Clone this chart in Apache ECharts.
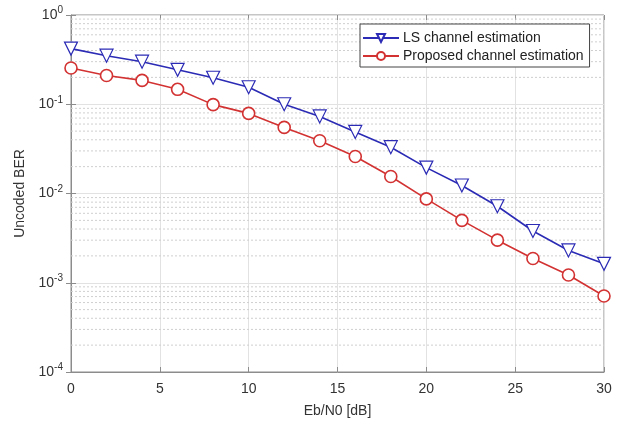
<!DOCTYPE html>
<html>
<head>
<meta charset="utf-8">
<script src="https://cdn.jsdelivr.net/npm/echarts@6/dist/echarts.min.js"></script>
<style>
  html, body { margin: 0; padding: 0; background: #fff; }
  #chart { width: 636px; height: 423px; }
</style>
</head>
<body>
<div id="chart"></div>
<script>
  // Eb/N0 points (dB)
  const ebno = [0, 2, 4, 6, 8, 10, 12, 14, 16, 18, 20, 22, 24, 26, 28, 30]
  const lsBer = [0.42, 0.35, 0.30, 0.243, 0.198, 0.155, 0.100, 0.073, 0.049, 0.033, 0.0195, 0.0123, 0.0072, 0.0038, 0.0023, 0.00163]
  const proposedBer = [0.255, 0.21, 0.185, 0.147, 0.099, 0.079, 0.055, 0.039, 0.026, 0.0155, 0.0087, 0.0050, 0.0030, 0.00187, 0.00122, 0.00071]
  const decades = [-4, -3, -2, -1]
  const minorMantissa = [2, 3, 4, 5, 6, 7, 8, 9]
  const seriesNames = ['LS channel estimation', 'Proposed channel estimation']

  // dotted minor grid at 2..9 x 10^k, drawn as one broken line series
  let minorGrid = []
  decades.forEach(k => {
    minorMantissa.forEach(m => {
      const v = m * Math.pow(10, k)
      minorGrid.push([0, v], [30, v], [30, '-'])
    })
  })

  const font = 'Liberation Sans, Arial, sans-serif'
  const blue = '#2b2bb5'
  const red = '#d33232'
  const chart = echarts.init(document.getElementById('chart'))

  const supLabel = {
    b: { fontSize: 14, color: '#333', fontFamily: font },
    s: { fontSize: 10, color: '#333', fontFamily: font, verticalAlign: 'top', padding: [0, 0, 9, 0] }
  }

  const option = {
    animation: false,
    backgroundColor: '#fff',
    color: [blue, red],
    grid: {
      left: 71, right: 32, top: 15, bottom: 51,
      show: true, borderColor: '#8c8c8c', borderWidth: 1
    },
    legend: {
      orient: 'vertical',
      left: 360,
      top: 24,
      itemWidth: 36,
      itemHeight: 10,
      itemGap: 4,
      padding: [7, 6, 4, 2],
      borderColor: '#444',
      borderWidth: 1,
      backgroundColor: '#fff',
      textStyle: { fontSize: 14, color: '#222', fontFamily: font, padding: [0, 0, 0, -1] },
      data: seriesNames
    },
    xAxis: [{
      type: 'value',
      min: 0, max: 30, interval: 5,
      name: 'Eb/N0 [dB]',
      nameLocation: 'middle',
      nameGap: 32,
      nameTextStyle: { fontSize: 14, color: '#333', fontFamily: font },
      axisLine: { lineStyle: { color: '#8c8c8c' } },
      axisTick: { inside: true, length: 5, lineStyle: { color: '#8c8c8c' } },
      axisLabel: { fontSize: 14, color: '#333', margin: 10, fontFamily: font },
      splitLine: { lineStyle: { color: '#e2e2e2' } }
    }, {
      type: 'value',
      position: 'top',
      min: 0, max: 30, interval: 5,
      axisLine: { show: false },
      axisTick: { inside: true, length: 5, lineStyle: { color: '#8c8c8c' } },
      axisLabel: { show: false },
      splitLine: { show: false }
    }],
    yAxis: [{
      type: 'log',
      logBase: 10,
      min: 1e-4, max: 1,
      name: 'Uncoded BER',
      nameLocation: 'middle',
      nameGap: 34,
      nameTextStyle: { fontSize: 14, color: '#333', fontFamily: font },
      axisLine: { show: true, lineStyle: { color: '#8c8c8c' } },
      axisTick: { inside: true, length: 5, lineStyle: { color: '#8c8c8c' } },
      axisLabel: {
        margin: 8,
        formatter: v => '{b|10}{s|' + Math.round(Math.log10(v)) + '}',
        rich: supLabel
      },
      splitLine: { lineStyle: { color: '#e2e2e2' } }
    }, {
      type: 'log',
      logBase: 10,
      min: 1e-4, max: 1,
      position: 'right',
      axisLine: { show: false },
      axisTick: { inside: true, length: 5, lineStyle: { color: '#8c8c8c' } },
      axisLabel: { show: false },
      splitLine: { show: false }
    }],
    series: [
      {
        name: 'minor-grid',
        type: 'line',
        data: minorGrid,
        silent: true,
        symbol: 'none',
        connectNulls: false,
        lineStyle: { color: '#cfcfcf', type: [2, 2], width: 1 },
        z: 1
      },
      {
        name: seriesNames[0],
        type: 'line',
        data: ebno.map((x, i) => [x, lsBer[i]]),
        symbol: 'triangle',
        symbolRotate: 180,
        symbolSize: 13,
        showAllSymbol: true,
        lineStyle: { width: 1.6, color: blue },
        itemStyle: { color: '#fff', borderColor: blue, borderWidth: 1.2 },
        z: 3
      },
      {
        name: seriesNames[1],
        type: 'line',
        data: ebno.map((x, i) => [x, proposedBer[i]]),
        symbol: 'circle',
        symbolSize: 12,
        showAllSymbol: true,
        lineStyle: { width: 1.6, color: red },
        itemStyle: { color: '#fff', borderColor: red, borderWidth: 1.6 },
        z: 3
      }
    ]
  }

  chart.setOption(option)
</script>
</body>
</html>
